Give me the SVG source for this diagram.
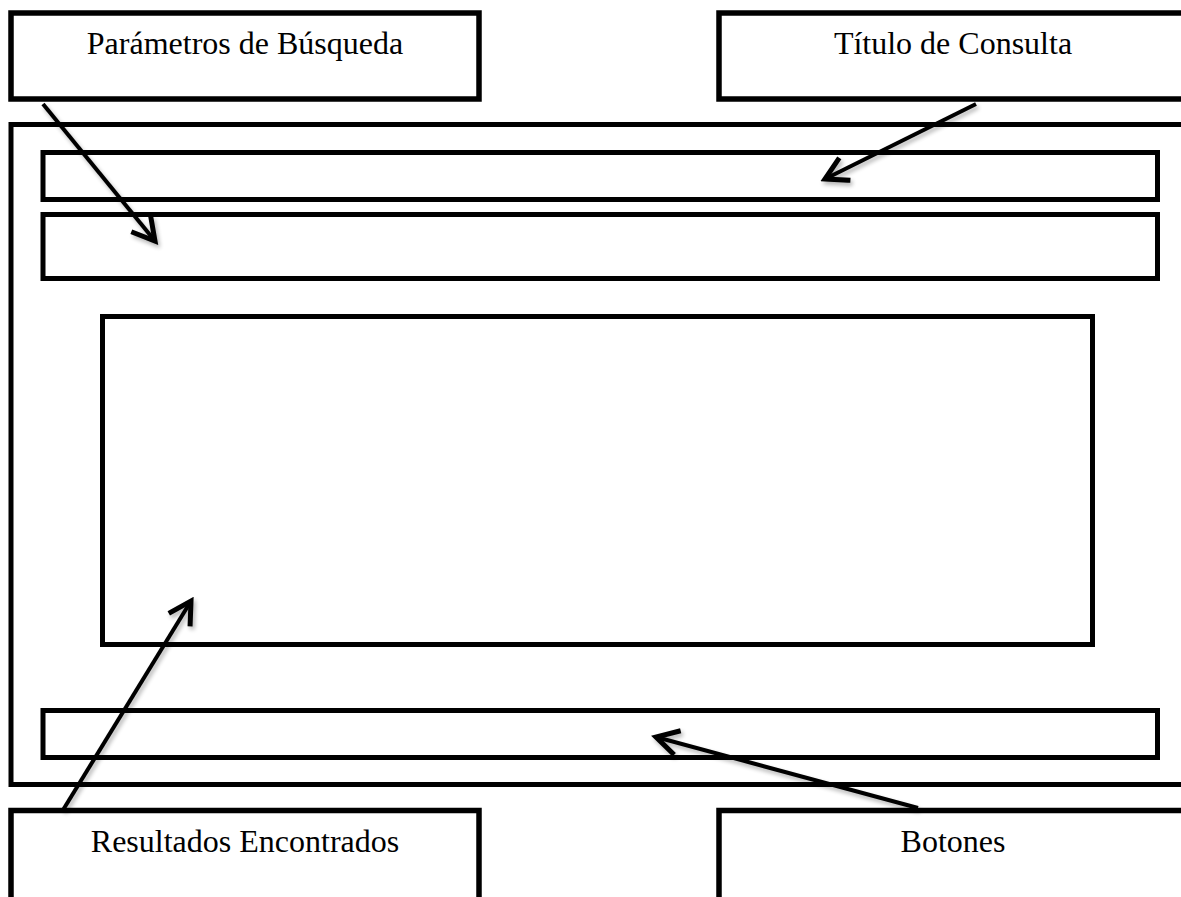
<svg xmlns="http://www.w3.org/2000/svg" width="1181" height="897" viewBox="0 0 1181 897">
<style>
.box{fill:#fff;stroke:#000;stroke-width:5.5}
.bar{fill:none;stroke:#000;stroke-width:5}
.lbl{font-family:"Liberation Serif","Times New Roman",serif;font-size:32px;fill:#000;text-anchor:middle}
.arr{fill:none;stroke:#000;stroke-width:4;marker-end:url(#head);filter:url(#sh)}
</style>
<defs>
<marker id="head" markerUnits="userSpaceOnUse" markerWidth="30" markerHeight="30" refX="20" refY="10" orient="auto" viewBox="0 0 24 20">
<path d="M4,1 L20,10 L4,19" fill="none" stroke="#000" stroke-width="4" stroke-linecap="square" stroke-linejoin="miter"/>
</marker>
<filter id="sh" x="-20%" y="-20%" width="140%" height="140%">
<feGaussianBlur in="SourceAlpha" stdDeviation="2"/>
<feOffset dx="2" dy="3" result="b"/>
<feComponentTransfer><feFuncA type="linear" slope="0.3"/></feComponentTransfer>
<feMerge><feMergeNode/><feMergeNode in="SourceGraphic"/></feMerge>
</filter>
</defs>
<rect width="1181" height="897" fill="#fff"/>
<g id="frame">
<rect class="bar" x="11" y="124.5" width="1180" height="660" stroke-width="5.5"/>
</g>
<g id="bar-titulo"><rect class="bar" x="43" y="152.5" width="1114.5" height="47"/></g>
<g id="bar-parametros"><rect class="bar" x="43" y="214.5" width="1114.5" height="64"/></g>
<g id="area-resultados"><rect class="bar" x="102.5" y="316.5" width="990" height="328"/></g>
<g id="bar-botones"><rect class="bar" x="43" y="710.5" width="1114.5" height="47"/></g>
<g id="node-parametros">
<rect class="box" x="11" y="13" width="468" height="86"/>
<text class="lbl" x="245" y="54">Parámetros de Búsqueda</text>
</g>
<g id="node-titulo">
<rect class="box" x="719" y="13" width="470" height="86"/>
<text class="lbl" x="953" y="54">Título de Consulta</text>
</g>
<g id="node-resultados">
<rect class="box" x="11" y="810.5" width="468" height="100"/>
<text class="lbl" x="245" y="852">Resultados Encontrados</text>
</g>
<g id="node-botones">
<rect class="box" x="719" y="810.5" width="470" height="100"/>
<text class="lbl" x="953" y="852">Botones</text>
</g>
<g id="connectors">
<line class="arr" x1="43" y1="104" x2="155" y2="241"/>
<line class="arr" x1="976" y1="104" x2="825" y2="179"/>
<line class="arr" x1="63" y1="810" x2="191" y2="601"/>
<line class="arr" x1="918" y1="808" x2="656" y2="737"/>
</g>
</svg>
